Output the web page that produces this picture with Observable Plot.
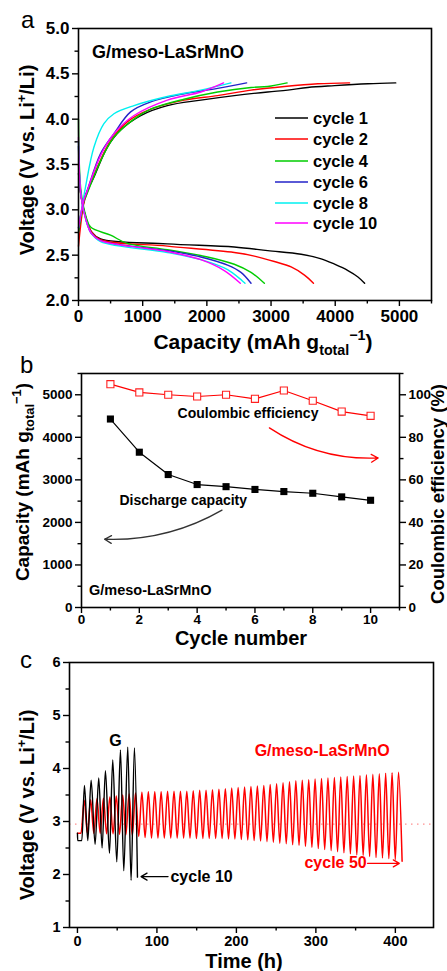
<!DOCTYPE html>
<html><head><meta charset="utf-8">
<script src="https://cdn.jsdelivr.net/npm/d3@7"></script>
<script src="https://cdn.jsdelivr.net/npm/@observablehq/plot@0.6"></script>
<style>
body{margin:0;background:#fff;}
#wrap{position:relative;width:447px;height:971px;overflow:hidden;font-family:"Liberation Sans",Arial,sans-serif;background:#fff;}
#wrap svg.panel{position:absolute;left:0;}
#overlay{position:absolute;left:0;top:0;pointer-events:none;}
</style></head><body><div id="wrap"></div>
<script>
// ---------- Panel a: charge/discharge profiles ----------
const cycleNames = ["cycle 1","cycle 2","cycle 4","cycle 6","cycle 8","cycle 10"];
const cycleColors = ["#000000","#ff0000","#00cc00","#2323c8","#00f0f0","#ff00ff"];
const chargeCap = [
  [0, 80, 109, 240, 448, 656, 969, 1385, 1906, 2427, 2948, 3260, 3573, 3990, 4510, 4943],
  [0, 80, 135, 292, 500, 760, 1125, 1646, 2167, 2688, 3208, 3729, 4224],
  [0, 80, 135, 344, 552, 865, 1125, 1646, 2167, 2688, 2948, 3250],
  [0, 80, 135, 344, 552, 812, 1125, 1646, 2167, 2620],
  [0, 60, 109, 240, 396, 552, 865, 1385, 1906, 2375],
  [0, 80, 135, 344, 552, 865, 1385, 1906, 2260]
];
const chargeV = [
  [2.75, 3.08, 3.16, 3.36, 3.69, 3.88, 4.04, 4.15, 4.21, 4.26, 4.30, 4.32, 4.35, 4.37, 4.39, 4.40],
  [2.60, 3.06, 3.19, 3.47, 3.76, 3.97, 4.11, 4.21, 4.26, 4.32, 4.36, 4.39, 4.40],
  [2.75, 3.08, 3.18, 3.54, 3.80, 4.00, 4.11, 4.22, 4.30, 4.35, 4.36, 4.40],
  [2.80, 3.10, 3.21, 3.62, 3.84, 4.08, 4.19, 4.28, 4.34, 4.40],
  [2.80, 3.05, 3.25, 3.69, 3.95, 4.06, 4.15, 4.25, 4.32, 4.40],
  [2.80, 3.10, 3.21, 3.60, 3.84, 4.04, 4.21, 4.30, 4.40]
];
const dischargeCap = [
  [0, 40, 120, 200, 344, 1385, 2427, 2948, 3469, 3781, 3990, 4198, 4354, 4458],
  [0, 40, 120, 200, 344, 1385, 2427, 2740, 3052, 3313, 3521, 3661],
  [0, 40, 120, 188, 500, 760, 1385, 2010, 2427, 2688, 2896],
  [0, 40, 120, 200, 344, 1385, 1906, 2323, 2531, 2688],
  [0, 40, 120, 200, 344, 1385, 1906, 2323, 2594],
  [0, 40, 120, 200, 344, 1385, 1906, 2271, 2521]
];
const dischargeV = [
  [3.40, 3.15, 2.90, 2.76, 2.68, 2.625, 2.59, 2.55, 2.51, 2.46, 2.40, 2.33, 2.26, 2.19],
  [3.50, 3.15, 2.90, 2.76, 2.67, 2.60, 2.53, 2.49, 2.43, 2.37, 2.28, 2.19],
  [4.00, 3.20, 2.92, 2.81, 2.72, 2.63, 2.56, 2.48, 2.40, 2.31, 2.19],
  [3.70, 3.15, 2.88, 2.74, 2.66, 2.55, 2.48, 2.39, 2.31, 2.19],
  [3.75, 3.15, 2.88, 2.74, 2.65, 2.53, 2.45, 2.34, 2.19],
  [3.80, 3.15, 2.88, 2.74, 2.66, 2.54, 2.45, 2.33, 2.19]
];
const aXTicks = [0, 1000, 2000, 3000, 4000, 5000];
const aXMinor = [500, 1500, 2500, 3500, 4500, 5500];
const aYTicks = [2.0, 2.5, 3.0, 3.5, 4.0, 4.5, 5.0];
const aYMinor = [2.25, 2.75, 3.25, 3.75, 4.25, 4.75];

// ---------- Panel b: cycling ----------
const cycleNumber = [1, 2, 3, 4, 5, 6, 7, 8, 9, 10];
const dischargeCapacity = [4430, 3650, 3125, 2890, 2840, 2775, 2725, 2685, 2600, 2520];
const coulombicEff = [105.0, 101.1, 100.0, 99.2, 100.0, 98.1, 102.0, 97.2, 92.1, 90.1];
const bXTicks = [0, 2, 4, 6, 8, 10];
const bXMinor = [1, 3, 5, 7, 9, 11];
const bCapTicks = [0, 1000, 2000, 3000, 4000, 5000];
const bCapMinor = [500, 1500, 2500, 3500, 4500, 5500];
const bCeTicks = [0, 20, 40, 60, 80, 100];
const bCeMinor = [10, 30, 50, 70, 90, 110];
const CE_PER_CAP = 50; // 100 % sits level with 5000 mAh/g on the left axis

// ---------- Panel c: voltage vs time (turning points) ----------
const blackT = [0, 0.3, 5.5, 8.8, 13.0, 17.2, 22.2, 26.8, 31.0, 35.2, 40.3, 44.4, 49.5, 54.1, 58.3, 63.3, 67.5, 71.7, 75.5];
const blackV = [2.78, 2.64, 2.64, 3.68, 2.64, 3.78, 2.57, 3.82, 2.50, 3.96, 2.40, 4.16, 2.24, 4.35, 2.07, 4.40, 1.89, 4.39, 1.95];
const redT = [0, 4.5,
  8.5, 12.5, 16.6, 20.6, 24.6, 28.6, 32.7, 36.7, 40.8, 44.8,
  48.9, 52.9, 56.9, 60.9, 65.0, 69.0, 73.1, 77.1, 81.1, 85.1,
  89.2, 93.2, 97.3, 101.3, 105.3, 109.3, 113.4, 117.4, 121.5, 125.5,
  129.6, 133.6, 137.6, 141.6, 145.7, 149.7, 153.8, 157.8, 161.8, 165.8,
  169.9, 173.9, 178.0, 182.0, 186.1, 190.1, 194.1, 198.1, 202.2, 206.2,
  210.3, 214.3, 218.3, 222.3, 226.4, 230.4, 234.5, 238.5, 242.5, 246.5,
  250.6, 254.6, 258.7, 262.7, 266.8, 270.8, 274.8, 278.8, 282.9, 286.9,
  291.0, 295.0, 299.0, 303.0, 307.1, 311.1, 315.2, 319.2, 323.3, 327.3,
  331.3, 335.3, 339.4, 343.4, 347.5, 351.5, 355.5, 359.5, 363.6, 367.6,
  371.7, 375.7, 379.8, 383.8, 387.8, 391.8, 395.9, 399.9, 404.0, 408.5];
const redV = [2.78, 2.78,
  3.40, 2.78, 3.41, 2.78, 3.43, 2.78, 3.44, 2.77, 3.46, 2.77,
  3.48, 2.76, 3.50, 2.75, 3.52, 2.74, 3.54, 2.72, 3.55, 2.70,
  3.56, 2.69, 3.56, 2.69, 3.56, 2.69, 3.57, 2.69, 3.57, 2.69,
  3.57, 2.69, 3.57, 2.69, 3.58, 2.68, 3.59, 2.68, 3.59, 2.68,
  3.60, 2.68, 3.61, 2.68, 3.62, 2.67, 3.63, 2.67, 3.64, 2.66,
  3.65, 2.65, 3.66, 2.64, 3.67, 2.63, 3.68, 2.62, 3.70, 2.61,
  3.71, 2.59, 3.73, 2.58, 3.75, 2.56, 3.77, 2.55, 3.78, 2.53,
  3.79, 2.51, 3.80, 2.49, 3.81, 2.47, 3.82, 2.45, 3.83, 2.43,
  3.84, 2.41, 3.85, 2.39, 3.86, 2.37, 3.87, 2.36, 3.88, 2.34,
  3.89, 2.32, 3.90, 2.31, 3.91, 2.30, 3.92, 2.28, 3.93, 2.25];
const refVoltage = [2.95];
const cXTicks = [0, 100, 200, 300, 400];
const cXMinor = [50, 150, 250, 350];
const cYTicks = [1, 2, 3, 4, 5, 6];
const cYMinor = [1.5, 2.5, 3.5, 4.5, 5.5];

const FONT = '"Liberation Sans", Arial, sans-serif';
const wrap = document.getElementById("wrap");
function place(svg, top) {
  svg.classList.add("panel");
  svg.style.top = top + "px";
  wrap.appendChild(svg);
}
const blank = () => "";
const intFmt = d => String(d);

// ---------- build panel a ----------
const aRows = [];
cycleNames.forEach((name, i) => {
  chargeCap[i].forEach((c, j) => aRows.push({series: name + "-ch", cycle: name, cap: c, v: chargeV[i][j]}));
  dischargeCap[i].forEach((c, j) => aRows.push({series: name + "-dis", cycle: name, cap: c, v: dischargeV[i][j]}));
});
const plotA = Plot.plot({
  width: 447, height: 330,
  marginTop: 28, marginBottom: 30, marginLeft: 78, marginRight: 16,
  x: {domain: [0, 5500]},
  y: {domain: [2, 5]},
  color: {domain: cycleNames, range: cycleColors},
  style: {fontFamily: FONT, fontWeight: "bold", fontSize: "17px", color: "black", background: "transparent", overflow: "visible"},
  marks: [
    Plot.axisX({ticks: aXTicks, tickSize: 6, tickPadding: 3, strokeWidth: 1.4, tickFormat: intFmt, label: null}),
    Plot.axisX({ticks: aXMinor, tickSize: 3.5, tickFormat: blank, strokeWidth: 1.4, label: null}),
    Plot.axisY({ticks: aYTicks, tickSize: 6, tickPadding: 3, strokeWidth: 1.4, tickFormat: d3.format(".1f"), label: null}),
    Plot.axisY({ticks: aYMinor, tickSize: 3.5, tickFormat: blank, strokeWidth: 1.4, label: null}),
    Plot.line(aRows, {x: "cap", y: "v", z: "series", stroke: "cycle", curve: "catmull-rom", strokeWidth: 1.4}),
    Plot.frame({stroke: "black", strokeWidth: 1.6})
  ]
});
place(plotA, 0);

// ---------- build panel b ----------
const bRows = cycleNumber.map((c, i) => ({c, cap: dischargeCapacity[i], ce: coulombicEff[i]}));
const bNotes = [
  {x: 5.76, y: 4552, text: "Coulombic efficiency"},
  {x: 3.52, y: 2524, text: "Discharge capacity"}
];
const bArrowRed = [{x1: 6.5, y1: 4222, x2: 10.26, y2: 3514}];
const bArrowBlack = [{x1: 4.86, y1: 2288, x2: 0.8, y2: 1604}];
const plotB = Plot.plot({
  width: 447, height: 300,
  marginTop: 43, marginBottom: 23, marginLeft: 81, marginRight: 48,
  x: {domain: [0, 11]},
  y: {domain: [0, 5500]},
  style: {fontFamily: FONT, fontWeight: "bold", fontSize: "13.5px", color: "black", background: "transparent", overflow: "visible"},
  marks: [
    Plot.axisX({ticks: bXTicks, tickSize: 6, tickPadding: 1, strokeWidth: 1.4, tickFormat: intFmt, label: null}),
    Plot.axisX({ticks: bXMinor, tickSize: 3.5, tickFormat: blank, strokeWidth: 1.4, label: null}),
    Plot.axisY({ticks: bCapTicks, tickSize: 6, tickPadding: 3, strokeWidth: 1.4, tickFormat: intFmt, label: null}),
    Plot.axisY({ticks: bCapMinor, tickSize: 3.5, tickFormat: blank, strokeWidth: 1.4, label: null}),
    Plot.axisY({anchor: "right", ticks: bCeTicks.map(d => d * CE_PER_CAP), tickFormat: d => String(d / CE_PER_CAP), tickSize: 6, tickPadding: 3, strokeWidth: 1.4, label: null}),
    Plot.axisY({anchor: "right", ticks: bCeMinor.map(d => d * CE_PER_CAP), tickFormat: blank, tickSize: 3.5, strokeWidth: 1.4, label: null}),
    Plot.line(bRows, {x: "c", y: "cap", stroke: "black", strokeWidth: 1.2}),
    Plot.dot(bRows, {x: "c", y: "cap", symbol: "square", r: 4, fill: "black"}),
    Plot.line(bRows, {x: "c", y: d => d.ce * CE_PER_CAP, stroke: "#ff0000", strokeWidth: 1.2}),
    Plot.dot(bRows, {x: "c", y: d => d.ce * CE_PER_CAP, symbol: "square", r: 4, fill: "white", stroke: "#ff2020", strokeWidth: 1.1}),
    Plot.text(bNotes, {x: "x", y: "y", text: "text", fontSize: 14, fontWeight: "bold", fill: "black"}),
    Plot.arrow(bArrowRed, {x1: "x1", y1: "y1", x2: "x2", y2: "y2", bend: -18, stroke: "#ff0000", strokeWidth: 1.3, headLength: 9}),
    Plot.arrow(bArrowBlack, {x1: "x1", y1: "y1", x2: "x2", y2: "y2", bend: 16, stroke: "#333333", strokeWidth: 1.3, headLength: 9}),
    Plot.frame({stroke: "black", strokeWidth: 1.6})
  ]
});
place(plotB, 330);

// ---------- build panel c ----------
const blackRows = blackT.map((t, i) => ({t, v: blackV[i]}));
const redRows = redT.map((t, i) => ({t, v: redV[i]}));
const cNotesMid = [
  {x: 47.8, y: 4.53, text: "G", fill: "black"},
  {x: 308, y: 4.34, text: "G/meso-LaSrMnO", fill: "#ff0000"}
];
const cNotesStart = [{x: 117, y: 1.96, text: "cycle 10", fill: "black"}];
const cNotesEnd = [{x: 364, y: 2.21, text: "cycle 50", fill: "#ff0000"}];
const cArrows = [
  {x1: 114, y1: 1.96, x2: 80, y2: 1.96, color: "black"},
  {x1: 365, y1: 2.21, x2: 405, y2: 2.21, color: "#ff0000"}
];
const cText = {x: "x", y: "y", text: "text", fill: "fill", fontSize: 16, fontWeight: "bold"};
const plotC = Plot.plot({
  width: 447, height: 331,
  marginTop: 22, marginBottom: 44, marginLeft: 69, marginRight: 14,
  x: {domain: [-10, 448]},
  y: {domain: [1, 6]},
  style: {fontFamily: FONT, fontWeight: "bold", fontSize: "14.5px", color: "black", background: "transparent", overflow: "visible"},
  marks: [
    Plot.axisX({ticks: cXTicks, tickSize: 6, tickPadding: 2, strokeWidth: 1.4, tickFormat: intFmt, label: null}),
    Plot.axisX({ticks: cXMinor, tickSize: 3.5, tickFormat: blank, strokeWidth: 1.4, label: null}),
    Plot.axisY({ticks: cYTicks, tickSize: 6, tickPadding: 3, strokeWidth: 1.4, tickFormat: intFmt, label: null}),
    Plot.axisY({ticks: cYMinor, tickSize: 3.5, tickFormat: blank, strokeWidth: 1.4, label: null}),
    Plot.ruleY(refVoltage, {stroke: "#ff9090", strokeWidth: 1.3, strokeDasharray: "1.5,4.5"}),
    Plot.line(redRows, {x: "t", y: "v", stroke: "#ff0000", strokeWidth: 1.5, curve: "monotone-x"}),
    Plot.line(blackRows, {x: "t", y: "v", stroke: "black", strokeWidth: 1.4, curve: "monotone-x"}),
    Plot.text(cNotesMid, {...cText, textAnchor: "middle"}),
    Plot.text(cNotesStart, {...cText, textAnchor: "start"}),
    Plot.text(cNotesEnd, {...cText, textAnchor: "end"}),
    Plot.arrow(cArrows, {x1: "x1", y1: "y1", x2: "x2", y2: "y2", stroke: "color", strokeWidth: 1.3, headLength: 8}),
    Plot.frame({stroke: "black", strokeWidth: 1.6})
  ]
});
place(plotC, 640);

// ---------- overlay: titles, panel letters, legend ----------
const ov = d3.select(wrap).append("svg").attr("id", "overlay")
  .attr("width", 447).attr("height", 971)
  .style("font-family", FONT);

function rich(x, y, rot, size, parts, opts = {}) {
  const t = ov.append("text")
    .attr("transform", `translate(${x},${y})` + (rot ? ` rotate(${rot})` : ""))
    .attr("text-anchor", opts.anchor || "middle")
    .attr("font-size", size)
    .attr("font-weight", opts.weight || "bold")
    .attr("fill", opts.fill || "black");
  parts.forEach(p => {
    const s = t.append("tspan").text(p.t);
    if (p.dy) s.attr("dy", p.dy);
    if (p.size) s.attr("font-size", p.size);
  });
  return t;
}
const capTitle = (fs) => [
  {t: "Capacity (mAh g"},
  {t: "total", dy: fs * 0.28, size: fs * 0.68},
  {t: "\u22121", dy: -fs * 0.72, size: fs * 0.68},
  {t: ")", dy: fs * 0.44}
];
const voltTitle = (fs) => [
  {t: "Voltage (V vs. Li"},
  {t: "+", dy: -fs * 0.4, size: fs * 0.65},
  {t: "/Li)", dy: fs * 0.4}
];

// panel letters
rich(21, 28, 0, 24, [{t: "a"}], {anchor: "start", weight: "normal"});
rich(20, 373, 0, 24, [{t: "b"}], {anchor: "start", weight: "normal"});
rich(20, 668, 0, 24, [{t: "c"}], {anchor: "start", weight: "normal"});

// panel a
rich(263, 349, 0, 21, capTitle(21));
rich(34, 160, -90, 20, voltTitle(20));
rich(92, 58, 0, 18, [{t: "G/meso-LaSrMnO"}], {anchor: "start"});
cycleNames.forEach((name, i) => {
  const y = [118, 139, 161, 182, 203, 223][i];
  ov.append("line").attr("x1", 275).attr("x2", 308).attr("y1", y).attr("y2", y)
    .attr("stroke", cycleColors[i]).attr("stroke-width", 1.6);
  rich(313, y + 6, 0, 16.5, [{t: name}], {anchor: "start"});
});

// panel b
rich(241, 645, 0, 20, [{t: "Cycle number"}]);
rich(29, 482, -90, 19, capTitle(19));
rich(444, 494, -90, 18.5, [{t: "Coulombic efficiency (%)"}]);
rich(89, 595, 0, 14.5, [{t: "G/meso-LaSrMnO"}], {anchor: "start"});

// panel c
rich(244, 968, 0, 20, [{t: "Time (h)"}]);
rich(34, 805, -90, 20, voltTitle(20));
</script>
</body></html>
